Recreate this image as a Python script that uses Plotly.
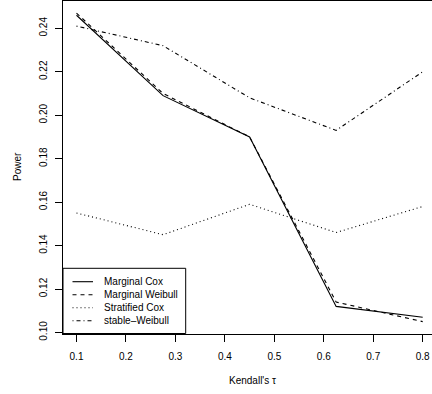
import plotly.graph_objects as go

# Kendall's tau grid and estimated power for each method
tau = [0.1, 0.275, 0.45, 0.625, 0.8]
marginal_cox = [0.246, 0.209, 0.190, 0.112, 0.107]
marginal_weibull = [0.247, 0.210, 0.190, 0.114, 0.105]
stratified_cox = [0.155, 0.145, 0.159, 0.146, 0.158]
stable_weibull = [0.241, 0.232, 0.208, 0.193, 0.220]

series_names = ["Marginal Cox", "Marginal Weibull", "Stratified Cox", "stable\u2013Weibull"]
series_values = [marginal_cox, marginal_weibull, stratified_cox, stable_weibull]
dash_styles = ["solid", "4px,4px", "1px,3px", "1px,3px,4px,3px"]

x_ticks = [0.1, 0.2, 0.3, 0.4, 0.5, 0.6, 0.7, 0.8]
y_ticks = [0.10, 0.12, 0.14, 0.16, 0.18, 0.20, 0.22, 0.24]

W, H = 432, 394
M_L, M_R, M_T, M_B = 63, 0, 1, 60
PW, PH = W - M_L - M_R, H - M_T - M_B
FONT = "Liberation Sans, Arial, Helvetica, sans-serif"


def px_x(px):
    return (px - M_L) / PW


def px_y(py):
    return (H - M_B - py) / PH


fig = go.Figure()
for name, vals, dash in zip(series_names, series_values, dash_styles):
    fig.add_trace(go.Scatter(
        x=tau, y=vals, mode="lines", name=name,
        line=dict(color="black", width=1.1, dash=dash),
        showlegend=False,
    ))

# legend box drawn R-style in the lower-left corner
shapes = [dict(type="rect", xref="paper", yref="paper",
               x0=px_x(63), x1=px_x(185.7), y0=px_y(333.5), y1=px_y(268.3),
               line=dict(color="black", width=1), fillcolor="white", layer="above")]
annotations = []
row_y = [281.7, 294.7, 307.7, 320.7]
for name, dash, ry in zip(series_names, dash_styles, row_y):
    shapes.append(dict(type="line", xref="paper", yref="paper",
                       x0=px_x(72.5), x1=px_x(93), y0=px_y(ry), y1=px_y(ry),
                       line=dict(color="black", width=1.1, dash=dash), layer="above"))
    annotations.append(dict(text=name, xref="paper", yref="paper",
                            x=px_x(101.5), y=px_y(ry), xanchor="left", yanchor="middle",
                            showarrow=False, font=dict(size=10, color="black", family=FONT)))

annotations.append(dict(text="Kendall's \u03c4", xref="paper", yref="paper",
                        x=px_x(252), y=px_y(380.7), xanchor="center", yanchor="middle",
                        showarrow=False, font=dict(size=10, color="black", family=FONT)))
annotations.append(dict(text="Power", xref="paper", yref="paper",
                        x=px_x(17), y=px_y(167), xanchor="center", yanchor="middle",
                        textangle=-90, showarrow=False,
                        font=dict(size=10, color="black", family=FONT)))

fig.update_layout(
    width=W, height=H,
    margin=dict(l=M_L, r=M_R, t=M_T, b=M_B, pad=0),
    paper_bgcolor="white", plot_bgcolor="white",
    font=dict(family=FONT, size=10, color="black"),
    shapes=shapes, annotations=annotations,
    xaxis=dict(
        range=[0.0727, 0.8188], tickvals=x_ticks, tickformat=".1f",
        showgrid=False, zeroline=False,
        showline=True, linecolor="black", linewidth=1, mirror=True,
        ticks="outside", ticklen=7, tickcolor="black", tickwidth=1,
        tickfont=dict(size=10, color="black", family=FONT),
        ticklabelstandoff=6,
    ),
    yaxis=dict(
        range=[0.0993, 0.25256], tickvals=y_ticks, tickformat=".2f",
        showgrid=False, zeroline=False,
        showline=True, linecolor="black", linewidth=1,
        ticks="outside", ticklen=7, tickcolor="black", tickwidth=1,
        tickangle=-90,
        tickfont=dict(size=10, color="black", family=FONT),
        ticklabelstandoff=4,
    ),
)

fig.write_html("out.html")
